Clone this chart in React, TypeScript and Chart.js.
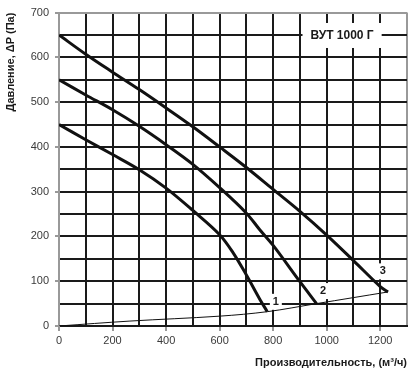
import React, { useEffect, useRef } from "react";
import { Chart, registerables } from "chart.js";

Chart.register(...registerables);

const FONT = "'Liberation Sans', Arial, sans-serif";

// Fan curves (x = flow m³/h, y = pressure Pa)
const curve1X = [0, 100, 200, 300, 400, 500, 600, 650, 700, 750, 778];
const curve1Y = [450, 416, 383, 349, 308, 258, 204, 164, 114, 60, 32];
const curve2X = [0, 100, 200, 300, 400, 500, 600, 700, 750, 800, 900, 962];
const curve2Y = [550, 516, 483, 446, 405, 361, 309, 252, 215, 180, 99, 50];
const curve3X = [0, 100, 200, 300, 400, 500, 600, 700, 800, 900, 1000, 1100, 1200, 1229];
const curve3Y = [650, 607, 567, 528, 487, 445, 400, 354, 305, 256, 203, 146, 88, 76];
// System (network) characteristic
const systemX = [0, 265, 600, 778, 962, 1229];
const systemY = [0, 11, 22, 32, 50, 76];

// Curve number labels
const labelTexts = ["1", "2", "3"];
const labelX = [810, 986, 1210];
const labelY = [54, 78, 122];

const titleText = "ВУТ 1000 Г";
const xTitle = "Производительность, (м³/ч)";
const yTitle = "Давление, ΔP (Па)";

const xMin = 0, xMax = 1300, xStep = 100, xLabelStep = 200;
const yMin = 0, yMax = 700, yStep = 50, yLabelStep = 100;

const toPts = (xs: number[], ys: number[]) => xs.map((x, i) => ({ x, y: ys[i] }));

const annotPlugin = {
  id: "annot",
  beforeDatasetsDraw(chart: any) {
    const { ctx, scales } = chart;
    const xs = scales.x, ys = scales.y;
    ctx.save();
    // title box
    ctx.font = `bold 12px ${FONT}`;
    const tw = ctx.measureText(titleText).width;
    const cx = xs.getPixelForValue(1050) + 2;
    const cy = ys.getPixelForValue(650);
    ctx.fillStyle = "#fff";
    ctx.fillRect(cx - tw / 2 - 8, cy - 12, tw + 16, 25);
    ctx.fillStyle = "#1a1a1a";
    ctx.textAlign = "center";
    ctx.textBaseline = "middle";
    ctx.fillText(titleText, cx, cy + 1);
    // curve labels
    ctx.font = `bold 11px ${FONT}`;
    labelTexts.forEach((t, i) => {
      const px = xs.getPixelForValue(labelX[i]);
      const py = ys.getPixelForValue(labelY[i]);
      ctx.fillStyle = "#fff";
      ctx.fillRect(px - 6, py - 8, 12, 16);
      ctx.fillStyle = "#1a1a1a";
      ctx.fillText(t, px, py);
    });
    ctx.restore();
  },
};

export default function App() {
  const ref = useRef<HTMLCanvasElement>(null);
  useEffect(() => {
    if (!ref.current) return;
    const lineDs = (label: string, xs: number[], ys: number[], w: number) => ({
      label,
      data: toPts(xs, ys),
      showLine: true,
      borderColor: "#111",
      backgroundColor: "#111",
      borderWidth: w,
      pointRadius: 0,
      tension: 0.35,
      fill: false,
    });
    const chart = new Chart(ref.current, {
      type: "scatter",
      data: {
        datasets: [
          lineDs("1", curve1X, curve1Y, 3),
          lineDs("2", curve2X, curve2Y, 3),
          lineDs("3", curve3X, curve3Y, 3),
          lineDs("system", systemX, systemY, 1),
        ],
      },
      options: {
        animation: false,
        responsive: false,
        devicePixelRatio: 1,
        layout: { padding: { top: 10, right: 6, left: 0, bottom: 0 } },
        plugins: { legend: { display: false }, tooltip: { enabled: false } },
        scales: {
          x: {
            type: "linear",
            min: xMin,
            max: xMax,
            afterFit: (s: any) => { s.height = 49; },
            ticks: {
              stepSize: xStep,
              autoSkip: false,
              maxRotation: 0,
              padding: 3,
              color: "#3a3a3a",
              font: { family: FONT, size: 11 },
              callback: (v: any) => (Number(v) % xLabelStep === 0 && Number(v) <= 1200 ? String(v) : ""),
            },
            grid: {
              color: (c: any) => (c.tick && c.tick.value === xMax ? "#999" : "#1a1a1a"),
              lineWidth: 2,
              tickLength: 5,
              tickColor: (c: any) => (c.tick && c.tick.value % xLabelStep === 0 && c.tick.value <= 1200 ? "#333" : "rgba(0,0,0,0)"),
              tickWidth: 1,
            },
            border: { color: "#1a1a1a", width: 2 },
            title: {
              display: true,
              text: xTitle,
              align: "end",
              color: "#1a1a1a",
              font: { family: FONT, size: 11, weight: "bold" },
              padding: { top: 4, bottom: 5 },
            },
          },
          y: {
            type: "linear",
            min: yMin,
            max: yMax,
            afterFit: (s: any) => { s.width = 59; },
            ticks: {
              stepSize: yStep,
              autoSkip: false,
              padding: 6,
              color: "#3a3a3a",
              font: { family: FONT, size: 11 },
              callback: (v: any) => (Number(v) % yLabelStep === 0 ? String(v) : ""),
            },
            grid: {
              color: (c: any) => (c.tick && c.tick.value === yMax ? "#999" : "#1a1a1a"),
              lineWidth: 2,
              tickLength: 4,
              tickColor: (c: any) => (c.tick && c.tick.value % yLabelStep === 0 ? "#333" : "rgba(0,0,0,0)"),
              tickWidth: 1,
            },
            border: { color: "#999", width: 2 },
            title: {
              display: true,
              text: yTitle,
              align: "end",
              color: "#1a1a1a",
              font: { family: FONT, size: 11, weight: "bold" },
              padding: { top: 4, bottom: 4 },
            },
          },
        },
      },
      plugins: [annotPlugin],
    } as any);
    return () => chart.destroy();
  }, []);
  return (
    <div style={{ position: "absolute", left: 0, top: 0, width: 413, height: 375, background: "#fff" }}>
      <canvas ref={ref} width={413} height={375} />
    </div>
  );
}
